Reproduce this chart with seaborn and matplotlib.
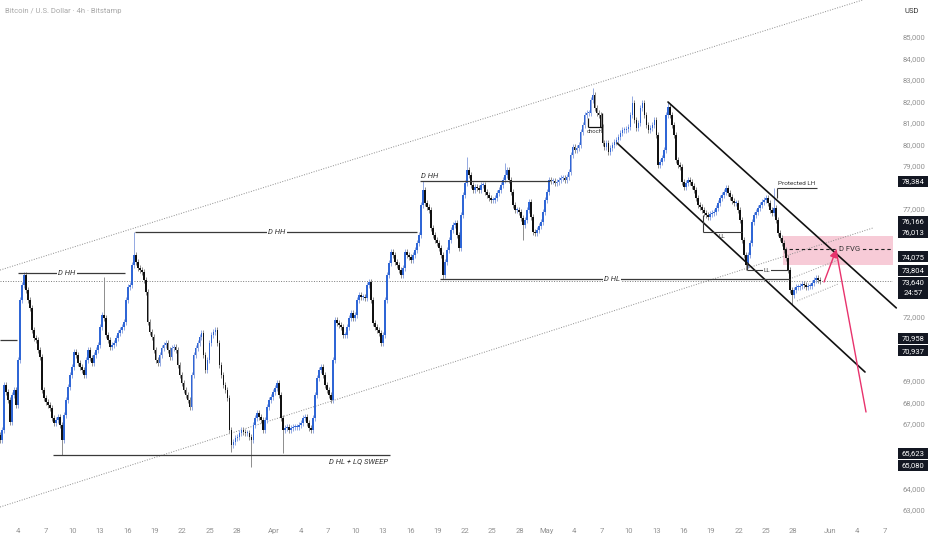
import numpy as np
import pandas as pd
import matplotlib
matplotlib.use("Agg")
import matplotlib.pyplot as plt
import matplotlib.transforms as mtrans
from matplotlib.patches import Rectangle
import seaborn as sns

# ---------------- DATA ----------------
closes = [
    66260, 66720, 68810, 68490, 68120, 67090, 68350, 68580, 67880, 69980,
    72770, 73470, 73930, 73230, 72770, 72400, 71370, 71000, 70910, 70440,
    70120, 68580, 68210, 68020, 67880, 67740, 67280, 67050, 67190, 67330,
    66950, 66260, 67420, 68120, 68720, 69280, 69650, 70350, 70210, 69840,
    69650, 69510, 69280, 69980, 70440, 70070, 69840, 70210, 70440, 70680,
    71510, 72070, 71930, 71140, 70910, 70580, 70680, 70770, 71000, 71230,
    71370, 71510, 71740, 72770, 73370, 73470, 74400, 74860, 74540, 74260,
    74160, 74070, 73700, 73140, 71740, 71280, 71050, 70440, 69980, 69840,
    70210, 70540, 70680, 70770, 70440, 70120, 70540, 70580, 70440, 69740,
    69280, 68910, 68580, 68350, 68120, 67790, 69280, 70210, 70540, 70770,
    71050, 71230, 70210, 69510, 69980, 70770, 71140, 71280, 71370, 70770,
    69740, 69280, 68810, 68580, 68210, 66720, 66020, 66160, 66350, 66400,
    66580, 66720, 66630, 66580, 66580, 66400, 66260, 66950, 67280, 67510,
    67330, 67190, 66720, 67190, 67790, 68120, 68260, 68490, 68680, 68910,
    68350, 67280, 66720, 66820, 66860, 66720, 66820, 66860, 66860, 66860,
    66950, 67050, 67280, 67330, 67050, 66820, 66720, 67280, 68350, 69140,
    69510, 69650, 69280, 68810, 68580, 68350, 68120, 69980, 71840, 71700,
    71610, 71510, 71140, 71140, 71510, 71930, 72160, 71930, 72070, 72770,
    73000, 72910, 72910, 72860, 73470, 73600, 72770, 71700, 71510, 71370,
    71230, 70770, 71140, 72770, 73930, 74490, 75000, 74860, 74540, 74400,
    74160, 73930, 74260, 75000, 74860, 74770, 74630, 74860, 75090, 75420,
    75790, 77190, 77880, 77280, 77090, 76950, 76120, 75790, 75560, 75420,
    75190, 74860, 73930, 74540, 75090, 75560, 76020, 76260, 76350, 75790,
    75190, 76720, 77650, 78210, 78810, 78580, 78120, 77880, 78020, 77980,
    77880, 78120, 78120, 77790, 77650, 77510, 77420, 77420, 77510, 77740,
    77880, 78120, 78350, 78580, 78810, 78350, 77790, 77190, 76950, 76950,
    76860, 76580, 76260, 76490, 76950, 77330, 76630, 75930, 75880, 76020,
    76210, 76400, 76860, 77420, 77790, 78350, 78300, 78300, 78210, 78260,
    78350, 78440, 78440, 78350, 78490, 78720, 79510, 79880, 79740, 79840,
    79980, 80580, 80910, 81370, 81470, 81470, 82070, 82300, 81700, 81470,
    81370, 80810, 80070, 79880, 80070, 79650, 79840, 79980, 80120, 80210,
    80350, 80540, 80680, 80680, 80720, 80810, 81370, 81930, 81140, 80770,
    81000, 81700, 81930, 81370, 80910, 80680, 80770, 80910, 81140, 80440,
    79050, 79190, 79370, 79740, 81370, 81740, 81370, 80910, 80440, 79280,
    79050, 78950, 78260, 78020, 78210, 78350, 78260, 78070, 77880, 77510,
    77190, 77090, 76950, 76810, 76720, 76630, 76770, 76810, 76860, 77050,
    77280, 77510, 77650, 77790, 77980, 77740, 77560, 77370, 77280, 77280,
    76950, 76490, 75560, 74860, 74400, 74860, 75420, 76400, 76720, 76860,
    77050, 77190, 77330, 77420, 77510, 77280, 76950, 76810, 77050, 76490,
    75880, 75650, 75420, 75090, 74720, 74160, 73230, 73000, 73230, 73370,
    73370, 73420, 73510, 73470, 73370, 73420, 73420, 73560, 73700, 73790,
    73700, 73640,
]
first_open = 66500
spike_high_idx = [12, 52, 67, 212, 234, 253, 297, 317, 335, 388]
spike_high_val = [74030, 73840, 75930, 78300, 79420, 79140, 82630, 82260, 81980, 78000]
spike_low_idx = [31, 116, 126, 142, 222, 262, 374, 397]
spike_low_val = [65560, 65700, 65000, 65650, 73740, 75560, 74160, 72540]

price_ticks = list(range(63000, 86000, 1000))
date_tick_days = [3, 6, 9, 12, 15, 18, 21, 24, 27, 31, 34, 37, 40, 43, 46, 49, 52, 55, 58,
                  61, 64, 67, 70, 73, 76, 79, 82, 85, 88, 92, 95, 98]
date_tick_labels = ['4', '7', '10', '13', '16', '19', '22', '25', '28', 'Apr', '4', '7', '10',
                    '13', '16', '19', '22', '25', '28', 'May', '4', '7', '10', '13', '16', '19',
                    '22', '25', '28', 'Jun', '4', '7']

# drawings (day since Mar 1, price)
asc_upper = ([1.03, 95.6], [74160, 86720])
asc_lower = ([1.03, 96.75], [63140, 76120])
desc_upper = ([74.27, 99.3], [81977, 72400])
desc_lower = ([68.68, 95.87], [80070, 69419])
small_upper = ([87.87, 92.91], [73791, 74628])
small_lower = ([88.42, 92.91], [72721, 73512])

left_level = (1.03, 2.89, 70910)
dhh_levels = [(3.0, 14.73, 74023), (15.83, 46.75, 75930), (47.08, 61.33, 78300)]
dhl_level = (49.27, 87.6, 73744)
sweep_level = (6.84, 43.79, 65558)
ll1 = (78.1, 82.4, 75930, 76700)
ll2 = (82.93, 87.43, 74163, 74535)
choch = (65.5, 67.04, 80814, 81233, 81465)
protected_lh = (86.2, 90.6, 78000)
fvg = (86.88, 74396, 75744, 75140)
current_price = 73640
pink_path = ([91.38, 92.7, 95.98], [73605, 75093, 67558])

label_texts = ['78,384', '76,166', '76,013', '74,075', '73,804', '73,640',
               '70,958', '70,937', '65,623', '65,080']
label_display_prices = [78300, 76440, 75930, 74770, 74160, 73600, 71000, 70400, 65650, 65090]
countdown_text = '24:57'

# ---------------- STYLE ----------------
sns.set_theme(style="white")
plt.rcParams['font.family'] = ['Roboto', 'DejaVu Sans']

W, H = 932, 550
fig = plt.figure(figsize=(W / 100, H / 100), dpi=100)
fig.patch.set_facecolor('white')
ax = fig.add_axes([0, 30 / H, 893 / W, 520 / H])
ax.set_facecolor('white')
for s in ax.spines.values():
    s.set_visible(False)

XMIN, XMAX = 1.026, 98.94
YMIN, YMAX = 62536, 86721
ax.set_xlim(XMIN, XMAX)
ax.set_ylim(YMIN, YMAX)
PX = (YMAX - YMIN) / 520.0  # price units per pixel

# ---------------- CANDLES ----------------
n = len(closes)
times = pd.date_range('2024-03-02 00:37', periods=n, freq='315min')
days = ((times - pd.Timestamp('2024-03-01')) / pd.Timedelta(days=1)).to_numpy()
c = np.array(closes, dtype=float)
o = np.concatenate([[first_open], c[:-1]])
pad = 3.2 * PX
hi = np.maximum(o, c) + pad
lo = np.minimum(o, c) - pad
for i, v in zip(spike_high_idx, spike_high_val):
    hi[i] = max(hi[i], v)
for i, v in zip(spike_low_idx, spike_low_val):
    lo[i] = min(lo[i], v)
up = c >= o
body_col = np.where(up, '#2f66d6', '#111111')
wick_col = np.where(up, '#93a9e2', '#8d8d8d')
ax.vlines(days, lo, hi, colors=wick_col, lw=0.7, zorder=3)
bottoms = np.minimum(o, c)
heights = np.maximum(np.abs(c - o), 1.2 * PX)
ax.bar(days, heights, bottom=bottoms, width=0.19, color=body_col, linewidth=0, zorder=4)

# ---------------- DRAWINGS ----------------
dot = (0, (1, 1.6))
for xs, ys in [asc_upper, asc_lower]:
    sns.lineplot(x=xs, y=ys, ax=ax, color='#8c8c8c', lw=0.7, linestyle=dot, zorder=2)
for xs, ys in [small_upper, small_lower]:
    sns.lineplot(x=xs, y=ys, ax=ax, color='#9a9a9a', lw=0.7, linestyle=dot, zorder=2)
for xs, ys in [desc_upper, desc_lower]:
    sns.lineplot(x=xs, y=ys, ax=ax, color='#111111', lw=1.2, zorder=5)
for ln in ax.get_lines():
    ln.set_clip_on(False)

# price line
ax.axhline(current_price, color='#7a7a7a', lw=0.7, linestyle=dot, zorder=2)

lvl_col = '#3a3a3a'
ax.hlines(left_level[2], left_level[0], left_level[1], color=lvl_col, lw=0.9, zorder=5)
txt_kw = dict(fontsize=5.5, color='#333333', style='italic', zorder=6)
gap_box = dict(boxstyle='square,pad=0.15', fc='white', ec='none')
for (a, b, p) in dhh_levels:
    ax.hlines(p, a, b, color=lvl_col, lw=0.9, zorder=5)
ax.text(8.37, dhh_levels[0][2], 'D HH', ha='center', va='center', bbox=gap_box, **txt_kw)
ax.text(31.4, dhh_levels[1][2], 'D HH', ha='center', va='center', bbox=gap_box, **txt_kw)
ax.text(47.2, dhh_levels[2][2] + 2.5 * PX, 'D HH', ha='left', va='bottom', **txt_kw)

ax.hlines(dhl_level[2], dhl_level[0], dhl_level[1], color=lvl_col, lw=0.9, zorder=5)
ax.text(68.13, dhl_level[2], 'D HL', ha='center', va='center', bbox=gap_box, **txt_kw)

ax.hlines(sweep_level[2], sweep_level[0], sweep_level[1], color=lvl_col, lw=0.9, zorder=5)
ax.text(43.6, sweep_level[2] - 3 * PX, 'D HL + LQ SWEEP', ha='right', va='top', **txt_kw)

# LL marks
ax.hlines(ll1[2], ll1[0], ll1[1], color=lvl_col, lw=0.8, zorder=5)
ax.vlines(ll1[0], ll1[2], ll1[3], color=lvl_col, lw=0.8, zorder=5)
ax.text(80.2, ll1[2] - 2 * PX, 'LL', ha='center', va='top', fontsize=4.5, color='#333333', zorder=6)
ax.hlines(ll2[2], ll2[0], ll2[1], color=lvl_col, lw=0.8, zorder=5)
ax.vlines(ll2[0], ll2[2], ll2[3], color=lvl_col, lw=0.8, zorder=5)
ax.text(85.13, ll2[2], 'LL', ha='center', va='center', fontsize=4.5, color='#333333',
        bbox=gap_box, zorder=6)

# choch
ax.hlines(choch[2], choch[0], choch[1], color='#111111', lw=0.9, zorder=5)
ax.vlines(choch[0], choch[2], choch[3], color='#111111', lw=0.9, zorder=5)
ax.vlines(choch[1], choch[2], choch[4], color='#111111', lw=0.9, zorder=5)
ax.text(66.27, choch[2] - 2 * PX, 'choch', ha='center', va='top', fontsize=4.2, color='#333333', zorder=6)

# protected LH
ax.hlines(protected_lh[2], protected_lh[0], protected_lh[1], color=lvl_col, lw=0.8, zorder=5)
ax.vlines(protected_lh[0], protected_lh[2] - 10 * PX, protected_lh[2], color=lvl_col, lw=0.8, zorder=5)
ax.text(88.4, protected_lh[2] + 1.8 * PX, 'Protected LH', ha='center', va='bottom', fontsize=4.6,
        color='#333333', zorder=6)

# FVG zone
ax.fill_between([fvg[0], XMAX], fvg[1], fvg[2], color='#f7cbd7', lw=0, zorder=1)
ax.hlines(fvg[3], fvg[0], XMAX, color='#222222', lw=0.8, linestyles=(0, (3, 2.5)), zorder=5)
ax.text(94.2, fvg[3], 'D FVG', ha='center', va='center', fontsize=5.5, color='#333333',
        bbox=dict(boxstyle='square,pad=0.15', fc='#f7cbd7', ec='none'), zorder=7)

# pink projection path
px, py = pink_path
ax.annotate('', xy=(px[1], py[1]), xytext=(px[0], py[0]),
            arrowprops=dict(arrowstyle='-|>,head_length=0.35,head_width=0.18', color='#e8336d',
                            lw=1.0, shrinkA=0, shrinkB=0), zorder=8)
ax.plot(px[1:], py[1:], color='#e8336d', lw=1.0, zorder=8)

# ---------------- PRICE-SCALE BOXES ----------------
bh = 11 * PX
box_spans = []
for t, p in zip(label_texts, label_display_prices):
    tall = (t == f'{current_price:,}')
    h = bh * 2 if tall else bh
    top = p + bh / 2
    box_spans.append((top - h, top))

# ---------------- AXES ----------------
def covered(v):
    return any(b - 3.8 * PX < v < t + 3.8 * PX for b, t in box_spans)

ax.set_yticks(price_ticks)
ax.set_yticklabels(['' if covered(v) else f'{v:,}' for v in price_ticks])
ax.yaxis.tick_right()
ax.tick_params(axis='y', length=0, pad=7, labelsize=5.5, labelcolor='#929292')
ax.set_xticks(date_tick_days)
ax.set_xticklabels(date_tick_labels)
ax.tick_params(axis='x', length=0, pad=6, labelsize=5.5, labelcolor='#929292')
ax.grid(False)

trans = mtrans.blended_transform_factory(ax.transAxes, ax.transData)
bx0 = 898 / 893
bw = 30 / 893
for (t, p), (b, tp) in zip(zip(label_texts, label_display_prices), box_spans):
    ax.add_patch(Rectangle((bx0, b), bw, tp - b, transform=trans, fc='#131722', ec='none',
                           clip_on=False, zorder=19))
    ax.text(bx0 + bw / 2, p, t, transform=trans, ha='center', va='center', fontsize=5.5,
            color='white', clip_on=False, zorder=20)
    if tp - b > bh * 1.5:
        ax.text(bx0 + bw / 2, p - bh, countdown_text, transform=trans, ha='center', va='center',
                fontsize=5.5, color='white', clip_on=False, zorder=20)

fig.text(5 / W, 1 - 11 / H, 'Bitcoin / U.S. Dollar · 4h · Bitstamp', ha='left', va='center',
         fontsize=5.5, color='#a8a8a8')
fig.text(912 / W, 1 - 11 / H, 'USD', ha='center', va='center', fontsize=5.5, color='#333333')

fig.savefig('out.png', dpi=100, facecolor='white')
